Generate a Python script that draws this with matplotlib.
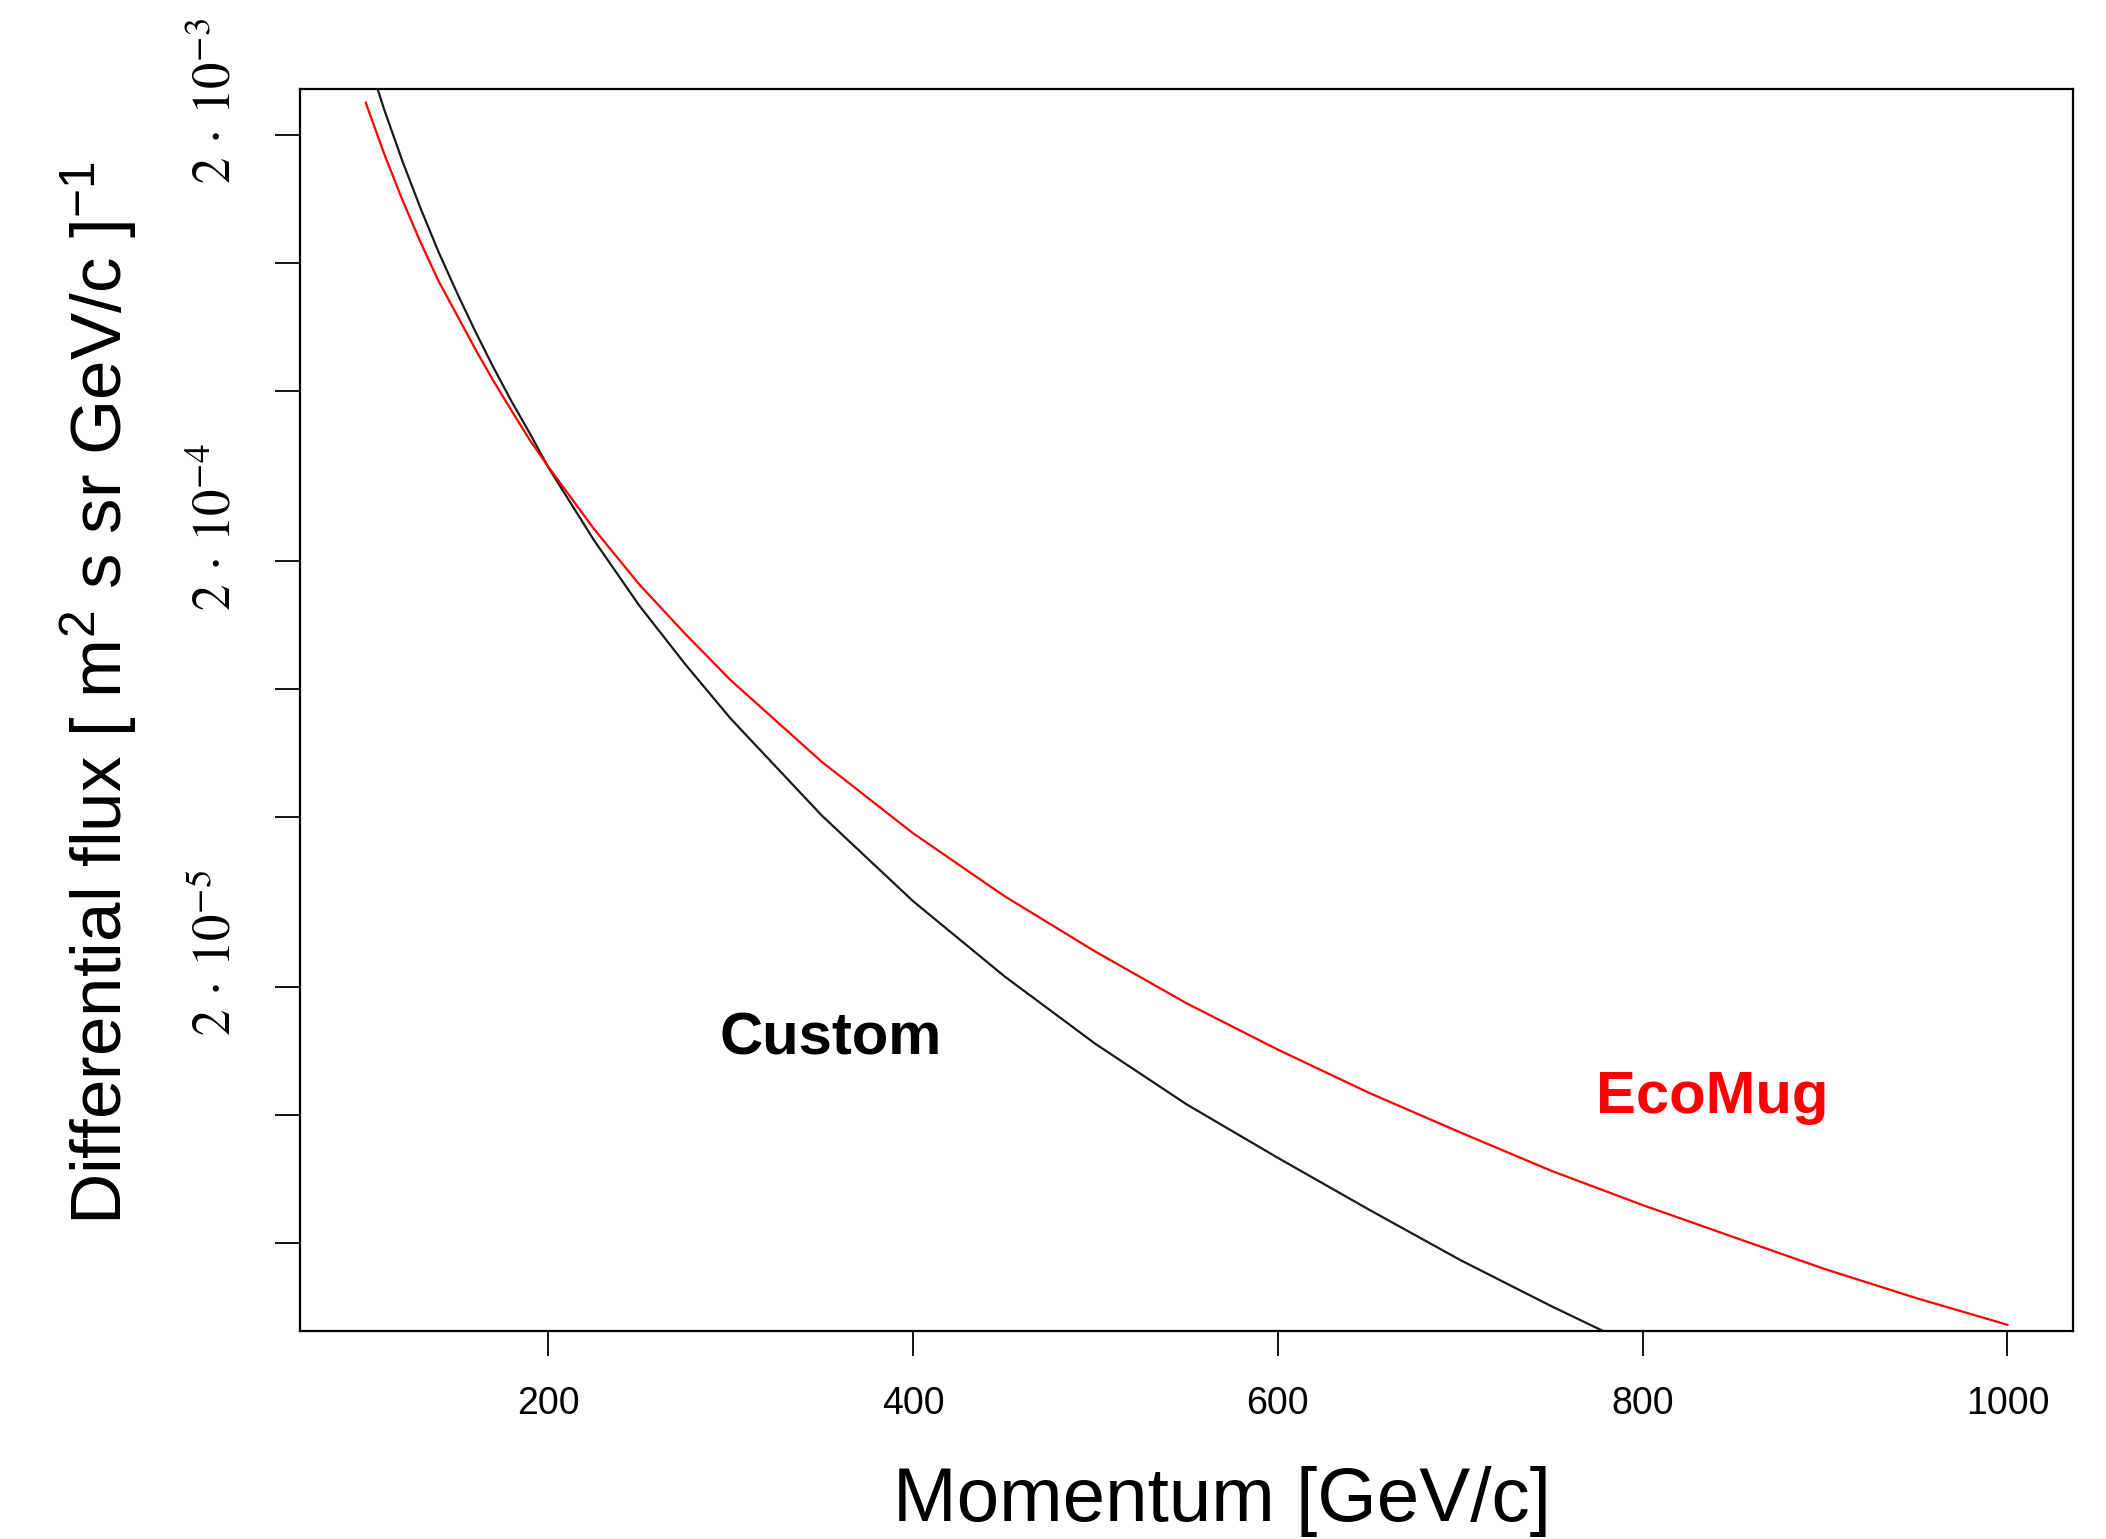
import matplotlib
matplotlib.use("Agg")
import matplotlib.pyplot as plt
import matplotlib.transforms as mtransforms

# momentum in GeV/c, differential flux in (m^2 s sr GeV/c)^-1
momentum_ecomug = [100, 110, 120, 130, 140, 150, 160, 170, 180, 190, 200, 225,
                   250, 275, 300, 350, 400, 450, 500, 550, 600, 650, 700, 750,
                   800, 850, 900, 950, 1000]
flux_ecomug = [2.38e-3, 1.81e-3, 1.41e-3, 1.12e-3, 9.06e-4, 7.55e-4, 6.29e-4,
               5.29e-4, 4.50e-4, 3.84e-4, 3.33e-4, 2.38e-4, 1.76e-4, 1.35e-4,
               1.05e-4, 6.75e-5, 4.59e-5, 3.27e-5, 2.42e-5, 1.83e-5, 1.425e-5,
               1.128e-5, 9.11e-6, 7.40e-6, 6.15e-6, 5.17e-6, 4.35e-6, 3.72e-6,
               3.22e-6]

momentum_custom = [100, 110, 120, 130, 140, 150, 160, 170, 180, 190, 200, 225,
                   250, 275, 300, 350, 400, 450, 500, 550, 600, 650, 700, 750,
                   800]
flux_custom = [3.13e-3, 2.30e-3, 1.74e-3, 1.346e-3, 1.06e-3, 8.52e-4, 6.92e-4,
               5.69e-4, 4.73e-4, 3.98e-4, 3.32e-4, 2.24e-4, 1.57e-4, 1.146e-4,
               8.53e-5, 5.05e-5, 3.18e-5, 2.12e-5, 1.47e-5, 1.06e-5, 7.94e-6,
               6.0e-6, 4.57e-6, 3.56e-6, 2.81e-6]

x_ticks = [200, 400, 600, 800, 1000]
y_ticks = [5e-6, 1e-5, 2e-5, 5e-5, 1e-4, 2e-4, 5e-4, 1e-3, 2e-3]
y_ticklabels = ['', '', r'$2\,\cdot\,10^{-5}$', '', '', r'$2\,\cdot\,10^{-4}$',
                '', '', r'$2\,\cdot\,10^{-3}$']

plt.rcParams['font.family'] = ['Liberation Sans', 'DejaVu Sans']
plt.rcParams['mathtext.fontset'] = 'custom'
plt.rcParams['mathtext.rm'] = 'Liberation Sans'
plt.rcParams['mathtext.it'] = 'Liberation Sans:italic'
plt.rcParams['mathtext.bf'] = 'Liberation Sans:bold'


def main():
    fig = plt.figure(figsize=(21.06, 15.39), dpi=100)
    ax = fig.add_axes([0.1425, 0.1352, 0.8419, 0.8070])

    ax.plot(momentum_custom, flux_custom, color='#1a1a1a', lw=1.6)
    ax.plot(momentum_ecomug, flux_ecomug, color='#ff0000', lw=1.6)

    ax.set_yscale('log')
    ax.set_xlim(64, 1036)
    ax.set_ylim(3.115e-6, 2.564e-3)

    ax.set_xticks(x_ticks)
    ax.set_xticklabels([str(v) for v in x_ticks])
    ax.set_yticks(y_ticks)
    ax.set_yticklabels(y_ticklabels)
    ax.minorticks_off()

    ax.tick_params(axis='x', length=18, width=1.3, labelsize=27, pad=22)
    ax.tick_params(axis='y', length=18, width=1.3, pad=24)
    offset = mtransforms.ScaledTranslation(0, 0.34, fig.dpi_scale_trans)
    for lab in ax.get_yticklabels():
        lab.set_rotation(90)
        lab.set_fontsize(38)
        lab.set_va('center')
        lab.set_math_fontfamily('stix')
        lab.set_transform(lab.get_transform() + offset)

    for sp in ax.spines.values():
        sp.set_linewidth(1.6)

    ax.set_xlabel('Momentum [GeV/c]', fontsize=55)
    ax.xaxis.set_label_coords(0.52, -0.109)
    ax.set_ylabel(r'Differential flux [ m$^2$ s sr GeV/c ]$^{-1}$', fontsize=51)
    ax.yaxis.set_label_coords(-0.091, 0.5135)

    ax.text(354.6, 1.51e-5, 'Custom', fontsize=43, fontweight='bold',
            color='black', ha='center', va='center')
    ax.text(838, 1.10e-5, 'EcoMug', fontsize=43, fontweight='bold',
            color='#ff0000', ha='center', va='center')

    fig.savefig('out.png', dpi=100)
    plt.close(fig)


if __name__ == "__main__":
    main()
